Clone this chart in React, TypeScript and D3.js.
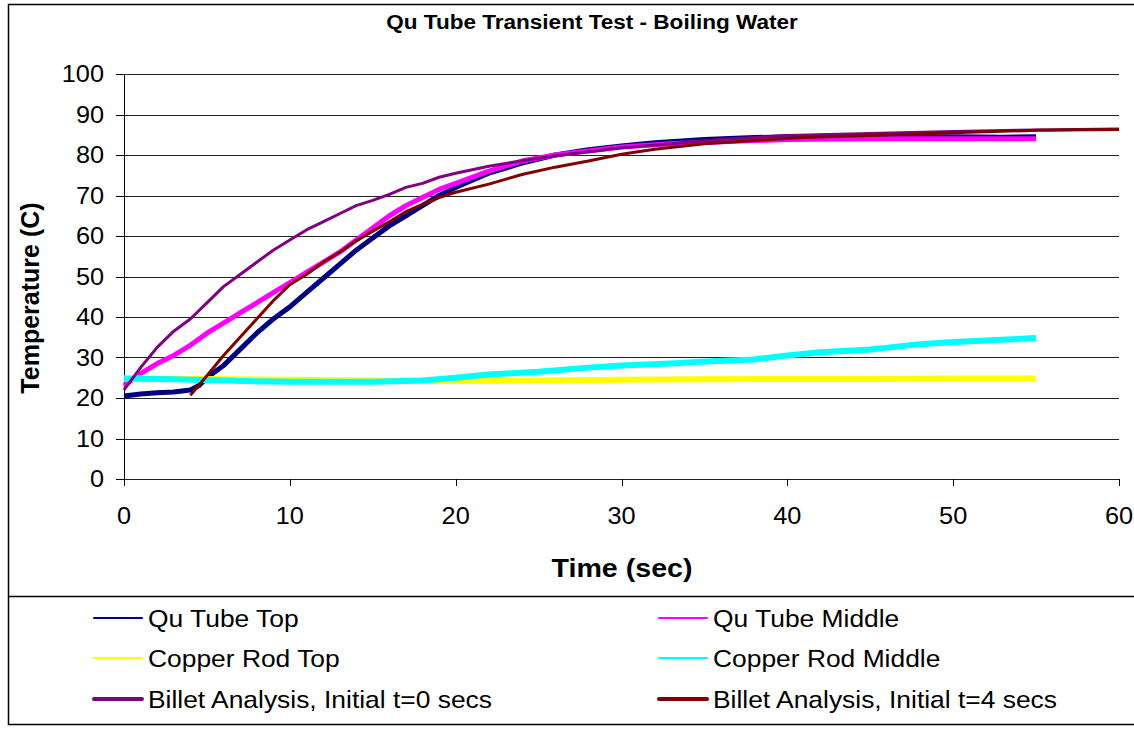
import * as d3 from "d3";

// time (sec) / temperature (C)
const tubeTopT = [0, 1, 2, 3, 4, 4.5, 5, 6, 7, 8, 9, 10, 11, 12, 13, 14, 15, 16, 17, 18, 19, 20, 21, 22, 24, 26, 28, 30, 32, 35, 38, 40, 43, 46, 50, 53, 55];
const tubeTopV = [20.5, 21, 21.3, 21.5, 22, 23, 25, 28, 32, 36, 39.5, 42.5, 46, 49.5, 53, 56.5, 59.5, 62.5, 65, 67.5, 70, 72, 73.8, 75.5, 78, 80, 81.3, 82.2, 83, 83.8, 84.3, 84.5, 84.6, 84.5, 84.5, 84.4, 84.5];

const tubeMidT = [0, 1, 2, 3, 4, 5, 6, 7, 8, 9, 10, 11, 12, 13, 14, 15, 16, 17, 18, 19, 20, 22, 24, 26, 28, 30, 33, 36, 40, 45, 50, 55];
const tubeMidV = [23, 26, 28.5, 30.5, 33, 36, 38.5, 41, 43.5, 46, 48.5, 51, 53.5, 56, 59, 62, 65, 67.5, 69.5, 71.5, 73, 76, 78.5, 80, 81, 82, 82.8, 83.3, 83.8, 84, 84, 84];

const rodTopT = [0, 5, 10, 15, 20, 25, 30, 35, 40, 45, 50, 55];
const rodTopV = [24.8, 24.7, 24.5, 24.3, 24.2, 24.3, 24.5, 24.6, 24.7, 24.7, 24.8, 24.8];

const rodMidT = [0, 3, 6, 10, 15, 18, 20, 22, 25, 28, 30, 33, 35, 38, 40, 42, 45, 48, 50, 52, 55];
const rodMidV = [24.8, 24.6, 24.3, 24, 24, 24.3, 25, 25.8, 26.5, 27.5, 28, 28.5, 29, 29.5, 30.5, 31.3, 32, 33.3, 33.8, 34.2, 34.8];

const billet0T = [0, 1, 2, 3, 4, 5, 6, 7, 8, 9, 10, 11, 12, 13, 14, 15, 16, 17, 18, 19, 20, 22, 24, 26, 28, 30, 33, 36, 40, 45, 50, 55, 60];
const billet0V = [22, 27.5, 32.5, 36.5, 39.5, 43.5, 47.5, 50.5, 53.5, 56.5, 59, 61.5, 63.5, 65.5, 67.5, 68.8, 70.3, 72, 73, 74.5, 75.5, 77.2, 78.6, 79.8, 80.8, 81.8, 82.8, 83.8, 84.8, 85.3, 85.8, 86.2, 86.4];

const billet4T = [4, 5, 6, 7, 8, 9, 10, 11, 12, 13, 14, 15, 16, 17, 18, 19, 20, 22, 24, 26, 28, 30, 32, 35, 38, 41, 45, 50, 55, 60];
const billet4V = [20.7, 25.5, 30.5, 35, 39.5, 44, 48, 50.5, 53.5, 56, 58.8, 61.2, 63.5, 66, 67.8, 69.5, 70.8, 72.8, 75.2, 77, 78.5, 80.2, 81.4, 82.8, 83.6, 84.3, 84.8, 85.5, 86.1, 86.3];

const xTicks = [0, 10, 20, 30, 40, 50, 60];
const yTicks = [0, 10, 20, 30, 40, 50, 60, 70, 80, 90, 100];

const series = [
  { name: "Qu Tube Top", t: tubeTopT, v: tubeTopV, color: "#000080", w: 5, lw: 2 },
  { name: "Qu Tube Middle", t: tubeMidT, v: tubeMidV, color: "#FF00FF", w: 5, lw: 2 },
  { name: "Copper Rod Top", t: rodTopT, v: rodTopV, color: "#FFFF00", w: 6, lw: 2 },
  { name: "Copper Rod Middle", t: rodMidT, v: rodMidV, color: "#00FFFF", w: 6, lw: 2 },
  { name: "Billet Analysis, Initial t=0 secs", t: billet0T, v: billet0V, color: "#800080", w: 3, lw: 4 },
  { name: "Billet Analysis, Initial t=4 secs", t: billet4T, v: billet4V, color: "#800000", w: 3, lw: 4 },
];

const font = "'Liberation Sans', Arial, sans-serif";
const SX = 1.1; // the original text is a bit wider than Arial

function T(props: {
  x: number;
  y: number;
  size: number;
  anchor?: string;
  bold?: boolean;
  dy?: string;
  children: any;
}) {
  return (
    <text
      transform={`translate(${props.x},${props.y}) scale(${SX},1)`}
      textAnchor={props.anchor || "start"}
      fontSize={props.size}
      fontWeight={props.bold ? "bold" : "normal"}
      dy={props.dy}
    >
      {props.children}
    </text>
  );
}

export default function App() {
  const width = 1134;
  const height = 729;
  const x = d3.scaleLinear().domain([0, 60]).range([124, 1119]);
  const y = d3.scaleLinear().domain([0, 100]).range([479, 74]);

  const line = d3
    .line<[number, number]>()
    .x((d) => x(d[0]))
    .y((d) => y(d[1]));

  const legendRows = [618, 658, 699];
  const legendCols = [94, 659];

  return (
    <svg
      width={width}
      height={height}
      style={{ position: "absolute", left: 0, top: 0, background: "#fff" }}
      fontFamily={font}
    >
      {/* outer frame */}
      <rect x={8.5} y={4.5} width={1140} height={720} fill="none" stroke="#000" strokeWidth={1.5} />
      <line x1={8} x2={1134} y1={596.5} y2={596.5} stroke="#000" strokeWidth={1.5} />

      <T x={592} y={29} size={20.5} anchor="middle" bold>
        Qu Tube Transient Test - Boiling Water
      </T>

      {/* grid */}
      {yTicks.map((t) => (
        <line key={"g" + t} x1={x(0)} x2={x(60)} y1={Math.round(y(t)) + 0.5} y2={Math.round(y(t)) + 0.5} stroke="#222" strokeWidth={1} />
      ))}

      {/* axes */}
      <line x1={x(0) + 0.5} x2={x(0) + 0.5} y1={y(100)} y2={y(0)} stroke="#000" strokeWidth={1} />
      {yTicks.map((t) => (
        <g key={"yt" + t}>
          <line x1={x(0) - 8} x2={x(0)} y1={Math.round(y(t)) + 0.5} y2={Math.round(y(t)) + 0.5} stroke="#000" />
          <T x={104} y={y(t)} dy="0.36em" anchor="end" size={23}>
            {t}
          </T>
        </g>
      ))}
      {xTicks.map((t) => (
        <g key={"xt" + t}>
          <line x1={Math.round(x(t)) + 0.5} x2={Math.round(x(t)) + 0.5} y1={y(0)} y2={y(0) + 7} stroke="#000" />
          <T x={x(t)} y={524} anchor="middle" size={23}>
            {t}
          </T>
        </g>
      ))}

      <T x={622} y={577} anchor="middle" size={26} bold>
        Time (sec)
      </T>
      <text
        transform={`translate(39,298) rotate(-90)`}
        textAnchor="middle"
        fontSize={25}
        fontWeight="bold"
      >
        Temperature (C)
      </text>

      {/* series */}
      {series.map((s) => (
        <path
          key={s.name}
          d={line(s.t.map((t, i) => [t, s.v[i]] as [number, number])) || ""}
          fill="none"
          stroke={s.color}
          strokeWidth={s.w}
          strokeLinejoin="round"
        />
      ))}

      {/* legend */}
      {series.map((s, i) => {
        const cx = legendCols[i % 2];
        const cy = legendRows[Math.floor(i / 2)];
        return (
          <g key={"lg" + s.name}>
            <line x1={cx} x2={cx + 48} y1={cy} y2={cy} stroke={s.color} strokeWidth={s.lw} strokeLinecap="round" />
            <T x={cx + 54} y={cy} dy="0.36em" size={24}>
              {s.name}
            </T>
          </g>
        );
      })}
    </svg>
  );
}
